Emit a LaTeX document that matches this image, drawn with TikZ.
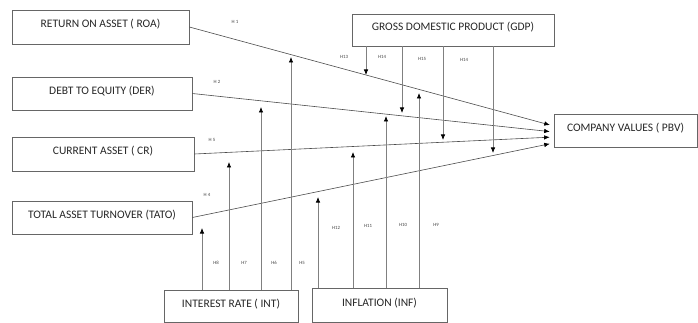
\documentclass[tikz,border=0pt]{standalone}
\usepackage{fontspec}
\setmainfont{Carlito}
\usepackage{tikz}
\usepackage{xcolor}
\usetikzlibrary{arrows.meta,positioning}

\begin{document}
\begin{tikzpicture}[x=1pt,y=-1pt,
var/.style={draw=black!60, line width=0.7pt, align=center, inner sep=0pt, text height=8pt, text depth=6pt, font=\fontsize{11.5}{13}\selectfont, text=black!85},
hyp/.style={font=\fontsize{4.8}{5}\selectfont, text=black!75, inner sep=0pt},
path/.style={-{Latex[length=5.5pt,width=4.5pt,color=black]}, black!70, line width=0.6pt},
mod/.style={-{Latex[length=5.5pt,width=4.5pt,color=black]}, black!50, line width=0.7pt}
]
\useasboundingbox (0,0) rectangle (698,323);

% variables
\node[var, minimum width=177, minimum height=34] (roa) at (100.5,27) {RETURN ON ASSET ( ROA)};
\node[var, minimum width=180, minimum height=33] (der) at (102,93.5) {DEBT TO EQUITY (DER)};
\node[var, minimum width=182, minimum height=34] (cr) at (103,154) {CURRENT ASSET ( CR)};
\node[var, minimum width=180, minimum height=33] (tato) at (102,217.5) {TOTAL ASSET TURNOVER (TATO)};
\node[var, minimum width=202, minimum height=32] (gdp) at (453,30) {GROSS DOMESTIC PRODUCT (GDP)};
\node[var, minimum width=143, minimum height=33] (pbv) at (625.5,130.5) {COMPANY VALUES ( PBV)};
\node[var, minimum width=134, minimum height=32.5] (int) at (231,306.25) {INTEREST RATE ( INT)};
\node[var, minimum width=135, minimum height=34.5] (inf) at (379.5,305.25) {INFLATION (INF)};

% tips of the moderating arrows
\coordinate (t8) at (202,228);
\coordinate (t7) at (229,162);
\coordinate (t6) at (261,107);
\coordinate (t5) at (291,57);
\coordinate (t12) at (318,197);
\coordinate (t11) at (353,152);
\coordinate (t10) at (386,116);
\coordinate (t9) at (419,93);
\coordinate (t13) at (366,75);
\coordinate (t14a) at (402,113);
\coordinate (t15) at (443,140);
\coordinate (t14b) at (493,153);

% direct paths
\draw[path, shorten >=4pt] (roa.east) -- ([yshift=4.5pt]pbv.west);
\draw[path, shorten >=4pt] (der.east) -- ([yshift=-1.5pt]pbv.west);
\draw[path, shorten >=4pt] (cr.east) -- ([yshift=-6.5pt]pbv.west);
\draw[path, shorten >=4pt] (tato.east) -- ([yshift=-12.5pt]pbv.west);

% moderators
\foreach \t in {t8,t7,t6,t5}
  \draw[mod] (int.north -| \t) -- (\t);
\foreach \t in {t12,t11,t10,t9}
  \draw[mod] (inf.north -| \t) -- (\t);
\foreach \t in {t13,t14a,t15,t14b}
  \draw[mod] (gdp.south -| \t) -- (\t);

% hypothesis labels
\node[hyp] (h1) at (235,22) {H 1};
\node[hyp] (h2) at (217,82) {H 2};
\node[hyp] (h3) at (212,140) {H 5};
\node[hyp] (h4) at (207,195) {H 4};
\node[hyp] (h8) at (216,263) {H8};
\node[hyp] (h7) at (244,263) {H7};
\node[hyp] (h6) at (274,263) {H6};
\node[hyp] (h5) at (302,263) {H5};
\node[hyp] (h12) at (336,228) {H12};
\node[hyp] (h11) at (368,226) {H11};
\node[hyp] (h10) at (403,225) {H10};
\node[hyp] (h9) at (436,225) {H9};
\node[hyp] (h13) at (344,57) {H13};
\node[hyp] (h14a) at (382,57) {H14};
\node[hyp] (h15) at (422,59) {H15};
\node[hyp] (h14b) at (464,60) {H14};
\end{tikzpicture}
\end{document}
